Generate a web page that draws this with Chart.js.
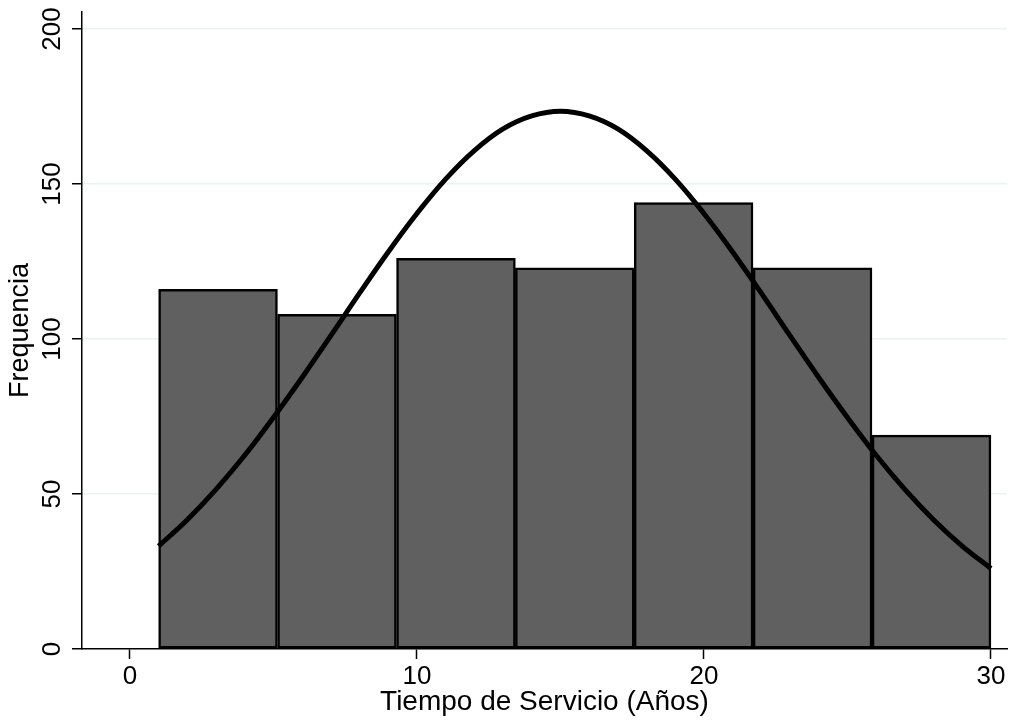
<!DOCTYPE html>
<html>
<head>
<meta charset="utf-8">
<script src="https://cdn.jsdelivr.net/npm/chart.js@4"></script>
<style>
html, body { margin: 0; padding: 0; background: #fff; }
#wrap { width: 1011px; height: 726px; }
</style>
</head>
<body>
<div id="wrap"><canvas id="histChart" width="1011" height="726"></canvas></div>
<script>
// histograma: bordes de los intervalos y frecuencias
const binEdges = [1, 5.14, 9.29, 13.43, 17.57, 21.71, 25.86, 30];
const counts = [116, 108, 126, 123, 144, 123, 69];

// curva normal
const curveX = [1, 2, 3, 4, 5, 6, 7, 8, 9, 10, 11, 12, 13, 14, 15,
                16, 17, 18, 19, 20, 21, 22, 23, 24, 25, 26, 27, 28, 29, 30];
const curveY = [33.2, 41.7, 51.5, 62.5, 74.7, 87.6, 101.1, 114.8, 128.1, 140.5,
                151.6, 160.8, 167.8, 172.0, 173.5, 172.0, 167.8, 160.8, 151.6, 140.5,
                128.1, 114.8, 101.1, 87.6, 74.7, 62.5, 51.5, 41.7, 33.2, 26.0];

const xTicks = [0, 10, 20, 30];
const yTicks = [0, 50, 100, 150, 200];

const FONT = "'Liberation Sans', Arial, Helvetica, sans-serif";

const barData = counts.map((c, i) => ({ x: (binEdges[i] + binEdges[i + 1]) / 2, y: c }));
const lineData = curveX.map((x, i) => ({ x: x, y: curveY[i] }));

const ctx = document.getElementById('histChart').getContext('2d');
new Chart(ctx, {
    type: 'bar',
    data: {
        datasets: [
            {
                type: 'line',
                data: lineData,
                borderColor: '#000',
                borderWidth: 5,
                pointRadius: 0,
                tension: 0.4,
                fill: false,
                borderCapStyle: 'butt',
                order: 0
            },
            {
                type: 'bar',
                data: barData,
                backgroundColor: '#606060',
                borderColor: '#000',
                borderWidth: 2.5,
                borderSkipped: false,
                barPercentage: 1,
                categoryPercentage: 1,
                grouped: false,
                order: 1
            }
        ]
    },
    options: {
        responsive: false,
        animation: false,
        layout: { padding: { top: 12, right: 4, left: 0, bottom: 0 } },
        plugins: { legend: { display: false }, tooltip: { enabled: false } },
        scales: {
            x: {
                type: 'linear',
                min: -1.67,
                max: 30.56,
                offset: false,
                afterBuildTicks: s => { s.ticks = xTicks.map(v => ({ value: v })); },
                afterFit: s => { s.height = 77; s.paddingLeft = 0; s.paddingRight = 0; },
                grid: { offset: false, drawOnChartArea: false, tickLength: 10, tickColor: '#000', tickWidth: 1.5 },
                border: { color: '#000', width: 1.5 },
                ticks: { color: '#000', font: { family: FONT, size: 26 }, padding: 2, maxRotation: 0 },
                title: {
                    display: true,
                    text: 'Tiempo de Servicio (Años)',
                    color: '#000',
                    font: { family: FONT, size: 28 },
                    padding: { top: 0, bottom: 7 }
                }
            },
            y: {
                type: 'linear',
                min: 0,
                max: 205.5,
                afterBuildTicks: s => { s.ticks = yTicks.map(v => ({ value: v })); },
                afterFit: s => { s.width = 82; s.paddingTop = 0; s.paddingBottom = 0; },
                grid: {
                    color: c => (c.tick && c.tick.value === 0) ? 'rgba(0,0,0,0)' : '#eaf2f3',
                    lineWidth: 1.5,
                    tickLength: 10,
                    tickColor: '#000',
                    tickWidth: 1.5
                },
                border: { color: '#000', width: 1.5 },
                ticks: {
                    color: '#000',
                    font: { family: FONT, size: 26 },
                    minRotation: 90,
                    maxRotation: 90,
                    crossAlign: 'center',
                    padding: -3
                },
                title: {
                    display: true,
                    text: 'Frequencia',
                    color: '#000',
                    font: { family: FONT, size: 27 },
                    padding: { top: 4, bottom: 0 }
                }
            }
        }
    }
});
</script>
</body>
</html>
